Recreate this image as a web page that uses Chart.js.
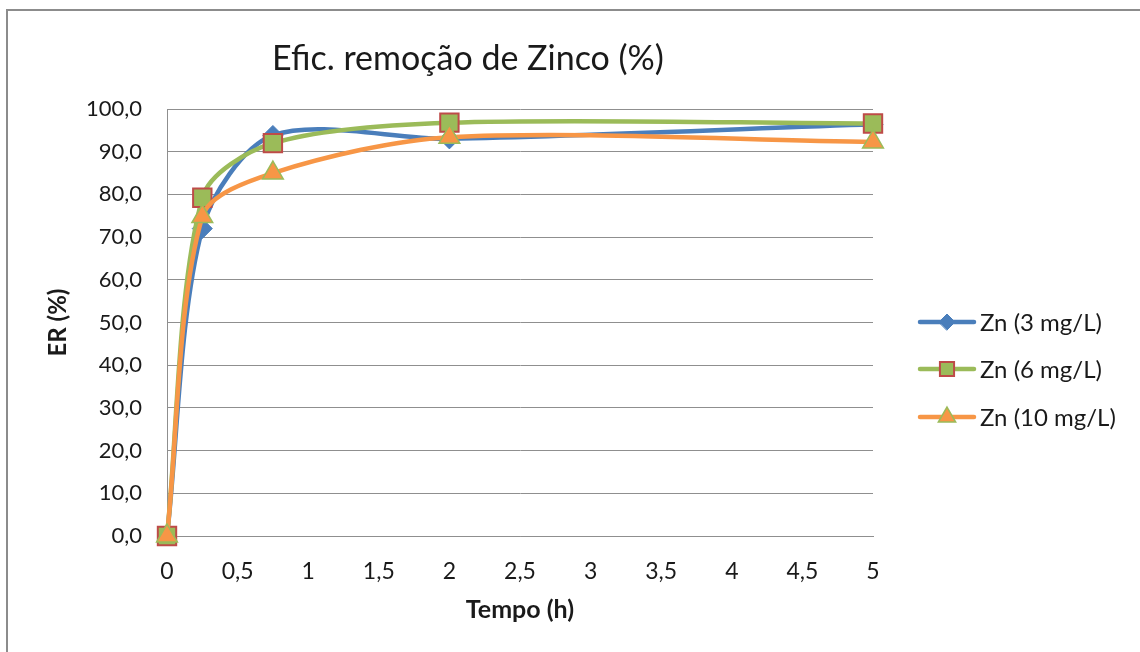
<!DOCTYPE html>
<html>
<head>
<meta charset="utf-8">
<style>
  html, body { margin: 0; padding: 0; background: #ffffff; }
  #wrap { width: 1140px; height: 652px; }
</style>
<script src="https://cdn.jsdelivr.net/npm/chart.js@4.4.1/dist/chart.umd.min.js"></script>
</head>
<body>
<div id="wrap"><canvas id="chart" width="1140" height="652"></canvas></div>
<script>
// Sampling times (h)
const tempos = [0, 0.25, 0.75, 2, 5];

// Removal efficiency (%) for each initial zinc concentration
const zn3 = [0, 72.0, 93.8, 93.0, 96.4];
const zn6 = [0, 79.2, 92.0, 96.8, 96.6];
const zn10 = [0, 74.8, 85.0, 93.4, 92.3];

const seriesNames = ['Zn (3 mg/L)', 'Zn (6 mg/L)', 'Zn (10 mg/L)'];
const chartTitle = 'Efic. remoção de Zinco (%)';
const xTitle = 'Tempo (h)';
const yTitle = 'ER (%)';

const FONT = 'Lato, "Open Sans", "DejaVu Sans", sans-serif';
const TEXT = '#1a1a1a';
const GRID = '#8f8f8f';

const toPoints = vals => tempos.map((t, i) => ({ x: t, y: vals[i] }));
const comma = v => String(Math.round(v * 100) / 100).replace('.', ',');

const styles = [
  { color: '#4a7ebb', pointStyle: 'rectRot', radius: 10, pointBorder: '#4a7ebb', pointBorderWidth: 1, legendRadius: 8 },
  { color: '#9bbb59', pointStyle: 'rect', radius: 13, pointBorder: '#be4b48', pointBorderWidth: 2, legendRadius: 10 },
  { color: '#f79646', pointStyle: 'triangle', radius: 12, pointBorder: '#9bbb59', pointBorderWidth: 1.5, legendRadius: 10 }
];
const seriesValues = [zn3, zn6, zn10];

const datasets = seriesValues.map((vals, i) => ({
  label: seriesNames[i],
  data: toPoints(vals),
  borderColor: styles[i].color,
  backgroundColor: styles[i].color,
  borderWidth: 4.5,
  tension: 0.3,
  pointStyle: styles[i].pointStyle,
  pointRadius: styles[i].radius,
  pointHoverRadius: styles[i].radius,
  pointBackgroundColor: styles[i].color,
  pointBorderColor: styles[i].pointBorder,
  pointBorderWidth: styles[i].pointBorderWidth,
  clip: false,
  order: 3 - i
}));

// White background with the grey frame around the chart
const framePlugin = {
  id: 'frame',
  beforeDraw(chart) {
    const ctx = chart.ctx;
    ctx.save();
    ctx.fillStyle = '#ffffff';
    ctx.fillRect(0, 0, chart.width, chart.height);
    ctx.strokeStyle = '#8c8c8c';
    ctx.lineWidth = 2;
    ctx.beginPath();
    ctx.moveTo(7, chart.height);
    ctx.lineTo(7, 10);
    ctx.lineTo(chart.width, 10);
    ctx.stroke();
    ctx.restore();
  }
};

// Chart title, set slightly left of the plot centre
const titlePlugin = {
  id: 'topTitle',
  afterDraw(chart) {
    const ctx = chart.ctx;
    ctx.save();
    ctx.font = '34px ' + FONT;
    ctx.fillStyle = TEXT;
    ctx.textAlign = 'center';
    ctx.textBaseline = 'alphabetic';
    ctx.fillText(chartTitle, 468, 70);
    ctx.restore();
  }
};

// Legend on the right: line sample with the series marker, then the name
const legendPlugin = {
  id: 'sideLegend',
  afterDraw(chart) {
    const ctx = chart.ctx;
    const rows = [322, 369, 417];
    ctx.save();
    chart.data.datasets.forEach((ds, i) => {
      const y = rows[i];
      ctx.strokeStyle = ds.borderColor;
      ctx.lineWidth = 4.5;
      ctx.lineCap = 'round';
      ctx.beginPath();
      ctx.moveTo(920, y);
      ctx.lineTo(974, y);
      ctx.stroke();
      ctx.fillStyle = ds.pointBackgroundColor;
      ctx.strokeStyle = ds.pointBorderColor;
      ctx.lineWidth = ds.pointBorderWidth;
      Chart.helpers.drawPoint(ctx, {
        pointStyle: ds.pointStyle,
        radius: styles[i].legendRadius,
        rotation: 0,
        borderWidth: ds.pointBorderWidth
      }, 947, y);
      ctx.fillStyle = TEXT;
      ctx.font = '24px ' + FONT;
      ctx.textAlign = 'left';
      ctx.textBaseline = 'middle';
      ctx.fillText(ds.label, 980, y + 1);
    });
    ctx.restore();
  }
};

new Chart(document.getElementById('chart'), {
  type: 'line',
  data: { datasets },
  plugins: [framePlugin, titlePlugin, legendPlugin],
  options: {
    responsive: false,
    animation: false,
    devicePixelRatio: 1,
    layout: { padding: { top: 109, left: 20, right: 267, bottom: 14 } },
    plugins: {
      legend: { display: false },
      title: { display: false },
      tooltip: { enabled: false }
    },
    scales: {
      x: {
        type: 'linear',
        min: 0,
        max: 5,
        afterFit(scale) { scale.height = 102; },
        ticks: {
          stepSize: 0.5,
          padding: 22,
          color: TEXT,
          font: { family: FONT, size: 23 },
          callback: v => comma(v)
        },
        grid: { display: false, drawTicks: false },
        border: { display: true, color: GRID, width: 1 },
        title: {
          display: true,
          text: xTitle,
          color: TEXT,
          font: { family: FONT, size: 25, weight: 'bold' },
          padding: { top: 0, bottom: 13 }
        }
      },
      y: {
        min: 0,
        max: 100,
        afterFit(scale) { scale.width = 147; },
        ticks: {
          stepSize: 10,
          padding: 25,
          color: TEXT,
          font: { family: FONT, size: 22 },
          callback: v => Number(v).toFixed(1).replace('.', ',')
        },
        grid: { color: GRID, lineWidth: 1, drawTicks: false },
        border: { display: true, color: GRID, width: 1 },
        title: {
          display: true,
          text: yTitle,
          color: TEXT,
          font: { family: FONT, size: 24, weight: 'bold' },
          padding: { top: 24, bottom: 0 }
        }
      }
    }
  }
});
</script>
</body>
</html>
